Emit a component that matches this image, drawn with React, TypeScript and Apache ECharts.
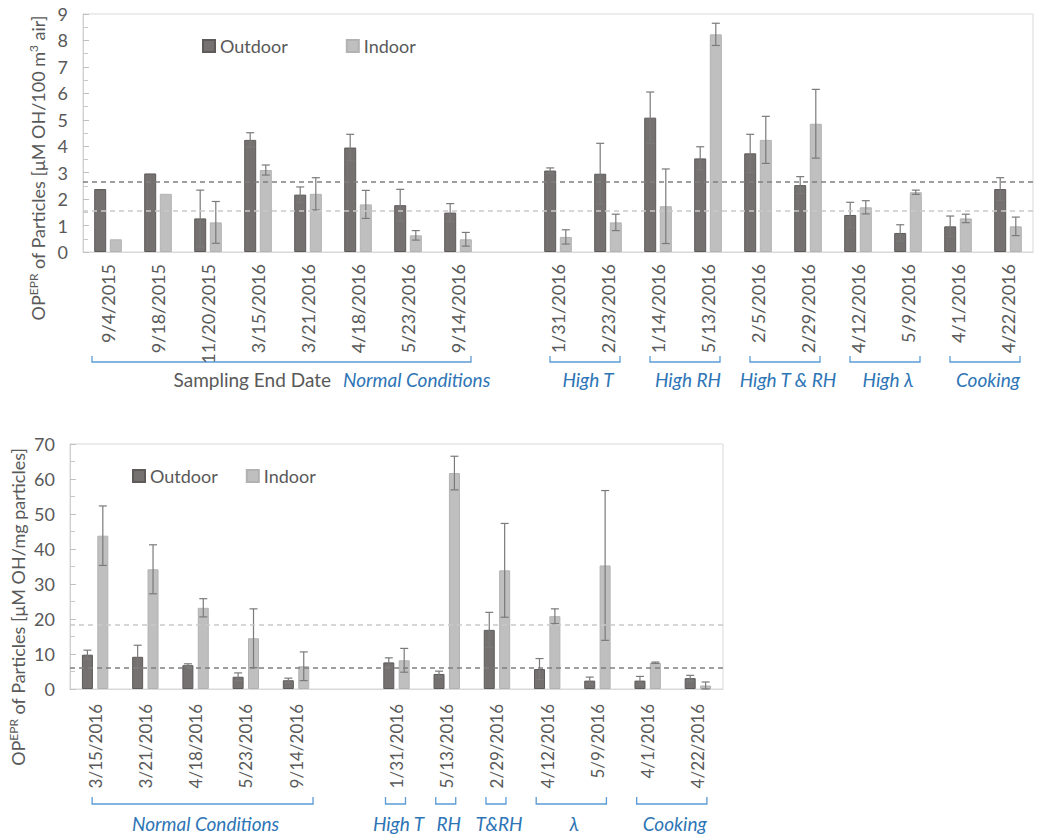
import React, { useEffect, useRef } from 'react';
import * as echarts from 'echarts';

// ---------- Top panel data (µM OH / 100 m3 air) ----------
const topNormalDates = ['9/4/2015', '9/18/2015', '11/20/2015', '3/15/2016', '3/21/2016', '4/18/2016', '5/23/2016', '9/14/2016'];
const topNormalOutdoor = [2.38, 2.97, 1.27, 4.24, 2.17, 3.95, 1.77, 1.49];
const topNormalOutdoorErr = [null, null, 1.07, 0.27, 0.29, 0.5, 0.6, 0.34];
const topNormalIndoor = [0.48, 2.2, 1.12, 3.1, 2.2, 1.8, 0.63, 0.48];
const topNormalIndoorErr = [null, null, 0.79, 0.19, 0.61, 0.53, 0.18, 0.26];

const topSpecialDates = ['1/31/2016', '2/23/2016', '1/14/2016', '5/13/2016', '2/5/2016', '2/29/2016', '4/12/2016', '5/9/2016', '4/1/2016', '4/22/2016'];
const topSpecialOutdoor = [3.08, 2.96, 5.08, 3.54, 3.73, 2.53, 1.4, 0.72, 0.97, 2.38];
const topSpecialOutdoorErr = [0.1, 1.15, 0.97, 0.44, 0.72, 0.32, 0.48, 0.31, 0.39, 0.43];
const topSpecialIndoor = [0.57, 1.12, 1.73, 8.23, 4.24, 4.85, 1.69, 2.26, 1.27, 0.97];
const topSpecialIndoorErr = [0.27, 0.31, 1.41, 0.42, 0.89, 1.3, 0.25, 0.08, 0.16, 0.35];

const topOutdoorMean = 2.64;
const topIndoorMean = 1.55;
const topYTicks = { min: 0, max: 9, interval: 1 };

const topGroups = [
  { label: 'High T', from: 0, to: 1 },
  { label: 'High RH', from: 2, to: 3 },
  { label: 'High T & RH', from: 4, to: 5 },
  { label: 'High λ', from: 6, to: 7 },
  { label: 'Cooking', from: 8, to: 9 },
];

// ---------- Bottom panel data (µM OH / mg particles) ----------
const botNormalDates = ['3/15/2016', '3/21/2016', '4/18/2016', '5/23/2016', '9/14/2016'];
const botNormalOutdoor = [9.8, 9.2, 6.8, 3.5, 2.5];
const botNormalOutdoorErr = [1.3, 3.3, 0.4, 1.1, 0.6];
const botNormalIndoor = [43.8, 34.2, 23.2, 14.5, 6.5];
const botNormalIndoorErr = [8.5, 7.0, 2.6, 8.4, 4.1];

const botSpecialDates = ['1/31/2016', '5/13/2016', '2/29/2016', '4/12/2016', '5/9/2016', '4/1/2016', '4/22/2016'];
const botSpecialOutdoor = [7.6, 4.3, 16.9, 5.7, 2.4, 2.4, 3.1];
const botSpecialOutdoorErr = [1.3, 0.8, 5.0, 3.0, 1.0, 1.2, 0.8];
const botSpecialIndoor = [8.2, 61.7, 33.9, 20.8, 35.3, 7.5, 1.0];
const botSpecialIndoorErr = [3.4, 4.8, 13.4, 2.1, 21.4, 0.2, 1.0];

const botOutdoorMean = 6.2;
const botIndoorMean = 18.3;
const botYTicks = { min: 0, max: 70, interval: 10 };

const botGroups = [
  { label: 'High T', from: 0, to: 0 },
  { label: 'RH', from: 1, to: 1 },
  { label: 'T&RH', from: 2, to: 2 },
  { label: 'λ', from: 3, to: 4 },
  { label: 'Cooking', from: 5, to: 6 },
];

// ---------- styling ----------
const FONT = 'Lato';
const TXT = '#595959';
const DARK = '#767171';
const LIGHT = '#bfbfbf';
const ERR = '#7a7a7a';
const BLUE_LINE = '#5b9bd5';
const BLUE_TXT = '#2e75b6';

function joinCats(a: string[], b: string[]) {
  return [...a, '', ...b];
}
function joinVals(a: (number | null)[], b: (number | null)[]) {
  return [...a, null, ...b];
}
function errData(vals: (number | null)[], errs: (number | null)[]) {
  const out: number[][] = [];
  vals.forEach((v, i) => {
    const e = errs[i];
    if (v != null && e != null) out.push([i, v, e]);
  });
  return out;
}
function errRender(offset: number) {
  return (params: any, api: any) => {
    const idx = api.value(0);
    const v = api.value(1);
    const e = api.value(2);
    const top = api.coord([idx, v + e]);
    const bot = api.coord([idx, Math.max(0, v - e)]);
    const x = top[0] + offset;
    const cap = 4;
    const style = { stroke: ERR, lineWidth: 1.2 };
    return {
      type: 'group',
      children: [
        { type: 'line', shape: { x1: x, y1: top[1], x2: x, y2: bot[1] }, style },
        { type: 'line', shape: { x1: x - cap, y1: top[1], x2: x + cap, y2: top[1] }, style },
        { type: 'line', shape: { x1: x - cap, y1: bot[1], x2: x + cap, y2: bot[1] }, style },
      ],
    };
  };
}

export default function App() {
  const ref = useRef<HTMLDivElement>(null);
  useEffect(() => {
    const chart = echarts.init(ref.current!, null, { renderer: 'svg' });

    const topCats = joinCats(topNormalDates, topSpecialDates);
    const topOut = joinVals(topNormalOutdoor, topSpecialOutdoor);
    const topIn = joinVals(topNormalIndoor, topSpecialIndoor);
    const topOutErr = joinVals(topNormalOutdoorErr, topSpecialOutdoorErr);
    const topInErr = joinVals(topNormalIndoorErr, topSpecialIndoorErr);

    const botCats = joinCats(botNormalDates, botSpecialDates);
    const botOut = joinVals(botNormalOutdoor, botSpecialOutdoor);
    const botIn = joinVals(botNormalIndoor, botSpecialIndoor);
    const botOutErr = joinVals(botNormalOutdoorErr, botSpecialOutdoorErr);
    const botInErr = joinVals(botNormalIndoorErr, botSpecialIndoorErr);

    const xAxisCommon = (margin: number, size: number) => ({
      type: 'category',
      axisLine: { lineStyle: { color: '#d9d9d9', width: 1 } },
      axisTick: { show: false },
      axisLabel: { interval: 0, rotate: 90, margin, fontSize: size, color: TXT, fontFamily: FONT },
      splitLine: { show: false },
    });
    const yAxisCommon = (t: any) => ({
      type: 'value',
      min: t.min,
      max: t.max,
      interval: t.interval,
      axisLine: { show: true, lineStyle: { color: '#d0d0d0', width: 1 } },
      axisTick: { show: true, inside: true, length: 6, lineStyle: { color: '#c0c0c0' } },
      minorTick: { show: true, splitNumber: 2, length: 5, lineStyle: { color: '#c8c8c8' } },
      axisLabel: { fontSize: 18, color: TXT, margin: 15, fontFamily: FONT },
      splitLine: { show: false },
    });
    const meanLines = (dark: number, light: number) => ({
      symbol: 'none',
      silent: true,
      label: { show: false },
      data: [
        { yAxis: dark, lineStyle: { color: '#808080', type: [5, 4], width: 1.5 } },
        { yAxis: light, lineStyle: { color: '#c9c9c9', type: [5, 4], width: 1.5 } },
      ],
    });

    const topBarW = 12;
    const topOff = (topBarW + topBarW * 0.3) / 2;
    const botBarW = 11;
    const botOff = (botBarW + botBarW * 0.4) / 2;

    const legendText = { fontSize: 18, color: TXT, fontFamily: FONT };
    const option: any = {
      animation: false,
      textStyle: { fontFamily: FONT },
      legend: [
        {
          data: ['Outdoor', 'Indoor'],
          left: 197,
          top: 32,
          icon: 'rect',
          itemWidth: 12,
          itemHeight: 12,
          itemGap: 58,
          textStyle: legendText,
        },
        {
          data: ['Outdoor', 'Indoor'],
          left: 127,
          top: 462,
          icon: 'rect',
          itemWidth: 12,
          itemHeight: 12,
          itemGap: 28,
          textStyle: legendText,
        },
      ],
      grid: [
        { left: 83, top: 14, width: 950, height: 238, show: true, borderColor: '#d9d9d9', borderWidth: 1, backgroundColor: 'transparent' },
        { left: 70, top: 444, width: 653, height: 245, show: true, borderColor: '#d9d9d9', borderWidth: 1, backgroundColor: 'transparent' },
      ],
      xAxis: [
        { ...xAxisCommon(12, 18), gridIndex: 0, data: topCats },
        { ...xAxisCommon(15, 17), gridIndex: 1, data: botCats },
      ],
      yAxis: [
        { ...yAxisCommon(topYTicks), gridIndex: 0 },
        { ...yAxisCommon(botYTicks), gridIndex: 1 },
      ],
      series: [
        {
          type: 'bar', name: 'Outdoor', xAxisIndex: 0, yAxisIndex: 0, data: topOut,
          barWidth: topBarW, barGap: '30%',
          itemStyle: { color: DARK, borderColor: '#5e5a5a', borderWidth: 1 },
        },
        {
          type: 'bar', name: 'Indoor', xAxisIndex: 0, yAxisIndex: 0, data: topIn,
          barWidth: topBarW, barGap: '30%',
          itemStyle: { color: LIGHT, borderColor: '#b2b2b2', borderWidth: 1 },
        },
        {
          type: 'custom', name: 'errTopOut', xAxisIndex: 0, yAxisIndex: 0, z: 3,
          data: errData(topOut, topOutErr), encode: { x: 0, y: 1 },
          renderItem: errRender(-topOff),
        },
        {
          type: 'custom', name: 'errTopIn', xAxisIndex: 0, yAxisIndex: 0, z: 3,
          data: errData(topIn, topInErr), encode: { x: 0, y: 1 },
          renderItem: errRender(topOff),
          markLine: meanLines(topOutdoorMean, topIndoorMean),
        },
        {
          type: 'bar', name: 'Outdoor', xAxisIndex: 1, yAxisIndex: 1, data: botOut,
          barWidth: botBarW, barGap: '40%',
          itemStyle: { color: DARK, borderColor: '#5e5a5a', borderWidth: 1 },
        },
        {
          type: 'bar', name: 'Indoor', xAxisIndex: 1, yAxisIndex: 1, data: botIn,
          barWidth: botBarW, barGap: '40%',
          itemStyle: { color: LIGHT, borderColor: '#b2b2b2', borderWidth: 1 },
        },
        {
          type: 'custom', name: 'errBotOut', xAxisIndex: 1, yAxisIndex: 1, z: 3,
          data: errData(botOut, botOutErr), encode: { x: 0, y: 1 },
          renderItem: errRender(-botOff),
        },
        {
          type: 'custom', name: 'errBotIn', xAxisIndex: 1, yAxisIndex: 1, z: 3,
          data: errData(botIn, botInErr), encode: { x: 0, y: 1 },
          renderItem: errRender(botOff),
          markLine: meanLines(botOutdoorMean, botIndoorMean),
        },
      ],
    };
    chart.setOption(option);

    // ---------- annotations: brackets, group labels, axis titles ----------
    const px = (axis: number, idx: number) => chart.convertToPixel({ xAxisIndex: axis }, idx) as number;
    const graphics: any[] = [];
    const bracket = (x1: number, x2: number, yTop: number, yBot: number) => ({
      type: 'polyline',
      silent: true,
      shape: { points: [[x1, yTop], [x1, yBot], [x2, yBot], [x2, yTop]] },
      style: { stroke: BLUE_LINE, lineWidth: 1.3, fill: 'none' },
    });
    const groupText = (text: string, x: number, y: number, align = 'center', color = BLUE_TXT, italic = true) => ({
      type: 'text',
      silent: true,
      x,
      y,
      style: {
        text,
        fill: color,
        fontSize: 19,
        fontFamily: FONT,
        fontStyle: italic ? 'italic' : 'normal',
        align,
        verticalAlign: 'middle',
      },
    });

    // top panel
    const topSpecialStart = topNormalDates.length + 1;
    const tL = 8, tR = 12;
    {
      const x1 = px(0, 0) - 16;
      const x2 = px(0, topNormalDates.length - 1) + 13;
      graphics.push(bracket(x1, x2, 356, 362));
      graphics.push(groupText('Sampling End Date', 331, 379, 'right', TXT, false));
      graphics.push(groupText('Normal Conditions', 343, 379, 'left'));
    }
    topGroups.forEach((g) => {
      const x1 = px(0, topSpecialStart + g.from) - tL;
      const x2 = px(0, topSpecialStart + g.to) + tR;
      graphics.push(bracket(x1, x2, 356, 362));
      graphics.push(groupText(g.label, (x1 + x2) / 2 + 3, 379));
    });

    // bottom panel
    const botSpecialStart = botNormalDates.length + 1;
    const bL = 11, bR = 9;
    {
      const x1 = px(1, 0) - 3;
      const x2 = px(1, botNormalDates.length - 1) + 17;
      graphics.push(bracket(x1, x2, 797, 804));
      graphics.push(groupText('Normal Conditions', (x1 + x2) / 2 + 3, 823));
    }
    botGroups.forEach((g) => {
      const x1 = px(1, botSpecialStart + g.from) - bL;
      const x2 = px(1, botSpecialStart + g.to) + bR;
      graphics.push(bracket(x1, x2, 797, 804));
      graphics.push(groupText(g.label, (x1 + x2) / 2 + 3, 823));
    });

    // y-axis titles with superscripts
    const rich = {
      a: { fontSize: 18, fill: TXT, fontFamily: FONT, lineHeight: 22, verticalAlign: 'middle' },
      s: { fontSize: 12, fill: TXT, fontFamily: FONT, verticalAlign: 'top' },
    };
    graphics.push({
      type: 'text',
      silent: true,
      x: 38,
      y: 168,
      rotation: Math.PI / 2,
      style: {
        text: '{a|OP}{s|EPR}{a| of Particles [μM OH/100 m}{s|3}{a| air]}',
        rich,
        align: 'center',
        verticalAlign: 'middle',
      },
    });
    graphics.push({
      type: 'text',
      silent: true,
      x: 18,
      y: 607,
      rotation: Math.PI / 2,
      style: {
        text: '{a|OP}{s|EPR}{a| of Particles [μM OH/mg particles]}',
        rich,
        align: 'center',
        verticalAlign: 'middle',
      },
    });

    chart.setOption({ graphic: graphics });
    return () => chart.dispose();
  }, []);

  return <div ref={ref} style={{ position: 'absolute', left: 0, top: 0, width: 1050, height: 837 }} />;
}
